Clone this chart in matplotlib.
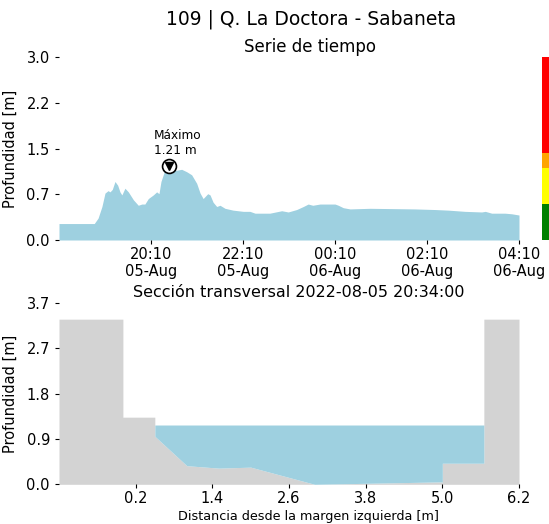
import matplotlib
matplotlib.use("Agg")
import matplotlib.pyplot as plt
import matplotlib.dates as mdates
import numpy as np
import pandas as pd

# ---------------- data ----------------
station_title = "109 | Q. La Doctora - Sabaneta"
t0 = pd.Timestamp("2022-08-05 18:10")
minutes = [0, 46, 51, 56, 60, 64, 66.5, 69.5, 73, 76.5, 79.5, 82, 86, 90.4, 97,
           103.4, 108, 112, 116.5, 123, 127.4, 130.4, 133, 137.3, 144, 151.3, 160,
           166.6, 173, 179.6, 184, 188, 194, 197, 201, 205.7, 210, 216.5, 227,
           240.4, 249, 255.7, 275, 290.5, 299, 310, 318.7, 325, 331, 340.4, 360,
           364.3, 370.8, 379.6, 405.7, 464, 490.4, 507.8, 529.6, 551.3, 556,
           564.4, 581.7, 590.5, 600]
depth = [0.27, 0.27, 0.36, 0.55, 0.77, 0.81, 0.79, 0.83, 0.96, 0.90, 0.79, 0.74,
         0.85, 0.79, 0.66, 0.57, 0.59, 0.59, 0.68, 0.74, 0.79, 0.76, 0.96, 1.12,
         1.21, 1.14, 1.16, 1.12, 1.07, 0.93, 0.77, 0.68, 0.76, 0.74, 0.62, 0.55,
         0.57, 0.52, 0.49, 0.47, 0.47, 0.44, 0.44, 0.48, 0.46, 0.50, 0.55, 0.59,
         0.57, 0.59, 0.59, 0.57, 0.53, 0.51, 0.52, 0.51, 0.50, 0.49, 0.47, 0.46,
         0.47, 0.44, 0.44, 0.43, 0.41]
max_depth = 1.21
top_ylim = 3.0
top_yticks = [0.0, 0.75, 1.5, 2.25, 3.0]
top_yticklabels = ["0.0", "0.7", "1.5", "2.2", "3.0"]
tick_times = ["2022-08-05 20:10", "2022-08-05 22:10", "2022-08-06 00:10",
              "2022-08-06 02:10", "2022-08-06 04:10"]

# risk levels (colour bar)
level_edges = [0.0, 0.59, 1.18, 1.42, 3.0]
level_colors = ["green", "yellow", "orange", "red"]

# cross section
section_title = "Sección transversal 2022-08-05 20:34:00"
sec_x = [-1.0, 0.0, 0.0, 0.5, 0.5, 1.0, 1.5, 2.0, 3.0, 3.8, 5.0, 5.0, 5.65, 5.65, 6.2]
sec_z = [3.37, 3.37, 1.37, 1.37, 0.98, 0.38, 0.33, 0.35, 0.0, 0.02, 0.05, 0.43, 0.43, 3.37, 3.37]
water_level = 1.21
bot_ylim = 3.7
bot_yticks = [0.0, 0.925, 1.85, 2.775, 3.7]
bot_yticklabels = ["0.0", "0.9", "1.8", "2.7", "3.7"]
bot_xticks = [0.2, 1.4, 2.6, 3.8, 5.0, 6.2]

water_color = "#9ed0e0"
ground_color = "lightgray"

# ---------------- figure ----------------
fig = plt.figure(figsize=(5.49, 5.24), dpi=100)
W, H = 549, 524

def ax_rect(x0, y0, x1, y1):
    return [x0 / W, 1 - y1 / H, (x1 - x0) / W, (y1 - y0) / H]

fig.text(311 / W, 1 - 19 / H, station_title, ha="center", va="center", fontsize=13.5)

# ---- time series ----
ax1 = fig.add_axes(ax_rect(59, 57.2, 519, 240))
times = [t0 + pd.Timedelta(minutes=m) for m in minutes]
ax1.fill_between(times, 0, depth, color=water_color, lw=0)
tmax = times[int(np.argmax(depth))]
ax1.plot([tmax], [max_depth], marker="o", ms=10, mfc="white", mec="black", mew=1.2)
ax1.plot([tmax], [max_depth], marker="v", ms=5.5, color="black")
ax1.text(tmax + pd.Timedelta(minutes=11), max_depth + 0.15, "Máximo\n1.21 m",
         ha="center", va="bottom", fontsize=8.7, multialignment="left")
ax1.set_xlim(times[0], t0 + pd.Timedelta(minutes=600))
ax1.set_ylim(0, top_ylim)
ax1.set_yticks(top_yticks)
ax1.set_yticklabels(top_yticklabels)
ax1.set_xticks([pd.Timestamp(t) for t in tick_times])
ax1.xaxis.set_major_formatter(mdates.DateFormatter("%H:%M\n%d-%b"))
ax1.set_ylabel("Profundidad [m]", fontsize=10.5, labelpad=6)
ax1.set_title("Serie de tiempo", fontsize=12, pad=4, x=0.546)
for s in ax1.spines.values():
    s.set_visible(False)
ax1.tick_params(labelsize=10.5, length=3)
ax1.tick_params(axis="x", pad=2)

# ---- colour bar of levels ----
axc = fig.add_axes(ax_rect(542, 57.2, 556, 240))
for lo, hi, c in zip(level_edges[:-1], level_edges[1:], level_colors):
    axc.bar(0, hi - lo, bottom=lo, width=1.0, color=c, lw=0)
axc.set_xlim(-0.5, 0.5)
axc.set_ylim(0, top_ylim)
axc.axis("off")

# ---- cross section ----
ax2 = fig.add_axes(ax_rect(59, 303, 519, 484.3))
ax2.fill_between(sec_x, 0, sec_z, color=ground_color, lw=0)
wx = sec_x[4:13]
wz = sec_z[4:13]
ax2.fill_between(wx, wz, water_level, color=water_color, lw=0)
ax2.set_xlim(-1.0, 6.2)
ax2.set_ylim(0, bot_ylim)
ax2.set_yticks(bot_yticks)
ax2.set_yticklabels(bot_yticklabels)
ax2.set_xticks(bot_xticks)
ax2.set_xticklabels([f"{v:.1f}" for v in bot_xticks])
ax2.set_ylabel("Profundidad [m]", fontsize=10.5, labelpad=6)
ax2.set_xlabel("Distancia desde la margen izquierda [m]", fontsize=9.2, labelpad=2)
ax2.xaxis.set_label_coords(0.543, -0.14)
ax2.set_title(section_title, fontsize=11.5, pad=4, x=0.522)
for s in ax2.spines.values():
    s.set_visible(False)
ax2.tick_params(labelsize=10.5, length=3)
ax2.tick_params(axis="x", pad=2)

fig.savefig("out.png", dpi=100)
